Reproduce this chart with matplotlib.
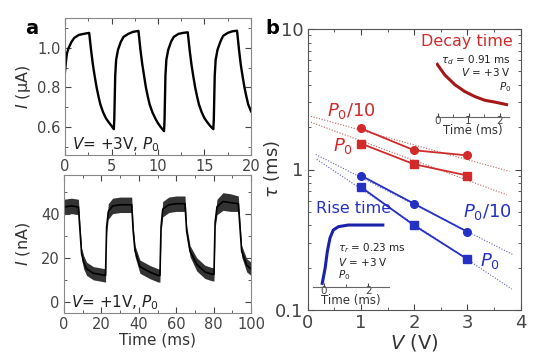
import matplotlib
matplotlib.use("Agg")
import matplotlib.pyplot as plt
from matplotlib.ticker import MultipleLocator, FixedLocator, NullFormatter

# ---- panel a, top: V = +3 V trace (current in uA vs time in ms)
t_top = [0, 0.1, 0.2, 0.4, 0.7, 1.0, 1.5, 2.0, 2.6,
         2.8, 3.0, 3.2, 3.4, 3.6, 3.8, 4.1, 4.4, 4.7, 5.0, 5.25,
         5.3, 5.4, 5.5, 5.7, 6.0, 6.3, 6.8, 7.3, 7.9,
         8.1, 8.3, 8.5, 8.7, 8.9, 9.1, 9.4, 9.7, 10.0, 10.3, 10.65,
         10.7, 10.8, 10.9, 11.1, 11.4, 11.7, 12.2, 12.7, 13.2,
         13.4, 13.6, 13.8, 14.0, 14.2, 14.4, 14.7, 15.0, 15.3, 15.6, 15.95,
         16.0, 16.1, 16.2, 16.4, 16.7, 17.0, 17.5, 18.0, 18.5,
         18.7, 18.9, 19.1, 19.3, 19.5, 19.7, 20.0]
i_top = [0.88, 0.93, 0.97, 1.00, 1.03, 1.05, 1.065, 1.07, 1.075,
         0.99, 0.915, 0.855, 0.80, 0.755, 0.715, 0.675, 0.645, 0.625, 0.607, 0.59,
         0.64, 0.86, 0.94, 0.99, 1.03, 1.055, 1.07, 1.08, 1.085,
         0.995, 0.92, 0.86, 0.80, 0.755, 0.715, 0.675, 0.645, 0.62, 0.60, 0.58,
         0.63, 0.86, 0.94, 0.99, 1.03, 1.055, 1.07, 1.075, 1.078,
         0.99, 0.915, 0.855, 0.80, 0.755, 0.715, 0.675, 0.645, 0.625, 0.607, 0.59,
         0.64, 0.86, 0.94, 0.99, 1.03, 1.06, 1.075, 1.083, 1.086,
         0.995, 0.915, 0.855, 0.80, 0.755, 0.715, 0.68]

# ---- panel a, bottom: V = +1 V trace (nA vs ms), with noise half-width
t_bot = [0, 4, 7.7, 8.5, 9.4, 10.5, 12.1, 15.7, 19, 22.2,
         22.8, 23.7, 26, 30, 36.2,
         37, 38, 40.6, 46, 50.4, 51.3,
         51.9, 52.8, 56, 60, 64.7,
         65.6, 67.4, 71, 75.4, 79, 80.2,
         80.8, 81.8, 85, 89, 93.2,
         95, 97.7, 100]
i_bot = [43, 43.5, 43, 33, 22, 18, 15, 13, 12.5, 12,
         34, 41, 43.5, 44, 44,
         32, 23, 16, 13.5, 12, 12,
         34, 42, 44, 44.5, 44.5,
         32, 23, 17, 13.6, 12.6, 12.5,
         36, 43, 45.5, 45, 44.5,
         23, 16.6, 15]
n_bot = [3.5, 3.5, 3.5, 2.5, 2.5, 3, 3, 3, 3, 3,
         2.5, 3.5, 3.5, 3.5, 3.5,
         2.5, 2.5, 3, 3, 3, 3,
         2.5, 3.5, 3.5, 3.5, 3.5,
         2.5, 2.5, 3, 3, 3, 3,
         2.5, 3.5, 4, 4, 3.5,
         2.5, 3, 3]

# ---- panel b: time constants vs bias
volts = [1, 2, 3]
decay_p10 = [1.96, 1.37, 1.26]
decay_p0 = [1.53, 1.09, 0.906]
rise_p10 = [0.906, 0.57, 0.36]
rise_p0 = [0.75, 0.40, 0.23]

# dotted guide lines (start / end)
fit_x = {"dp10": [0.06, 3.79], "dp0": [0.06, 3.74], "rp10": [0.15, 3.86], "rp0": [0.17, 3.83]}
fit_y = {"dp10": [2.39, 0.97], "dp0": [2.17, 0.66], "rp10": [1.28, 0.247], "rp0": [1.18, 0.141]}

# insets: normalized transients
decay_t = [-0.01, 0.23, 0.56, 0.88, 1.2, 1.52, 1.85, 2.22]
decay_v = [0.85, 0.68, 0.52, 0.41, 0.33, 0.27, 0.24, 0.20]
rise_t = [-0.08, 0.05, 0.15, 0.27, 0.42, 0.65, 1.1, 2.67]
rise_v = [0.055, 0.28, 0.53, 0.73, 0.85, 0.90, 0.925, 0.925]

RED = "#d22a2a"
BLUE = "#2431c4"
W, H = 556, 357


def fx(x):
    return x / W


def fy(y):
    return 1 - y / H


def ticks_in(ax, size):
    ax.tick_params(which="both", direction="in", top=True, right=True,
                   labelsize=size, colors="#444444", pad=3)
    ax.tick_params(which="major", length=4)
    ax.tick_params(which="minor", length=2)


fig = plt.figure(figsize=(5.56, 3.57), dpi=100)

# ---------- panel a top
ax1 = fig.add_axes([fx(65), fy(155), fx(186), 137 / H])
ax1.plot(t_top, i_top, color="black", lw=1.7)
ax1.set_xlim(0, 20)
ax1.set_ylim(0.46, 1.15)
ax1.xaxis.set_major_locator(MultipleLocator(5))
ax1.xaxis.set_minor_locator(MultipleLocator(2.5))
ax1.yaxis.set_major_locator(FixedLocator([0.6, 0.8, 1.0]))
ax1.yaxis.set_minor_locator(MultipleLocator(0.1))
ticks_in(ax1, 10.5)
ax1.set_ylabel(r"$I$ (μA)", fontsize=11.5, color="#333333")
ax1.yaxis.set_label_coords(-0.17, 0.5)
ax1.text(0.04, 0.04, r"$V$= +3V, $P_0$", transform=ax1.transAxes,
         fontsize=11, color="#222222")

# ---------- panel a bottom
ax2 = fig.add_axes([fx(64), fy(313), fx(187), 138 / H])
lo = [c - n for c, n in zip(i_bot, n_bot)]
hi = [c + n for c, n in zip(i_bot, n_bot)]
ax2.fill_between(t_bot, lo, hi, color="black", alpha=0.8, lw=0)
ax2.plot(t_bot, i_bot, color="black", lw=1.2)
ax2.set_xlim(0, 100)
ax2.set_ylim(-5, 57.5)
ax2.xaxis.set_major_locator(MultipleLocator(20))
ax2.xaxis.set_minor_locator(MultipleLocator(10))
ax2.yaxis.set_major_locator(FixedLocator([0, 20, 40]))
ax2.yaxis.set_minor_locator(MultipleLocator(10))
ticks_in(ax2, 10.5)
ax2.set_ylabel(r"$I$ (nA)", fontsize=11.5, color="#333333")
ax2.yaxis.set_label_coords(-0.17, 0.5)
ax2.set_xlabel("Time (ms)", fontsize=11, color="#333333", labelpad=0)
ax2.text(0.04, 0.04, r"$V$= +1V, $P_0$", transform=ax2.transAxes,
         fontsize=11, color="#222222")

for a in (ax1, ax2):
    for s in a.spines.values():
        s.set_color("#888888")

# ---------- panel b
axb = fig.add_axes([fx(307.7), fy(310), fx(213), 281 / H])
axb.set_yscale("log")
axb.set_xlim(0, 4)
axb.set_ylim(0.1, 10)
for key, col in (("dp10", "#c46060"), ("dp0", "#c46060"),
                 ("rp10", "#6060c0"), ("rp0", "#6060c0")):
    axb.plot(fit_x[key], fit_y[key], ls=(0, (1, 1.5)), lw=0.8, color=col)
axb.plot(volts, decay_p10, "-o", color=RED, ms=5.5, lw=1.3)
axb.plot(volts, decay_p0, "-s", color=RED, ms=5.5, lw=1.3)
axb.plot(volts, rise_p10, "-o", color=BLUE, ms=5.5, lw=1.3)
axb.plot(volts, rise_p0, "-s", color=BLUE, ms=5.5, lw=1.3)
axb.xaxis.set_major_locator(MultipleLocator(1))
axb.xaxis.set_minor_locator(MultipleLocator(0.5))
axb.yaxis.set_major_locator(FixedLocator([0.1, 1, 10]))
axb.set_yticklabels(["0.1", "1", "10"])
axb.yaxis.set_minor_formatter(NullFormatter())
ticks_in(axb, 13)
for s in axb.spines.values():
    s.set_color("#555555")
axb.set_xlabel(r"$V$ (V)", fontsize=14, color="#333333", labelpad=0)
axb.set_ylabel(r"$\tau$ (ms)", fontsize=13, color="#333333")
axb.yaxis.set_label_coords(-0.12, 0.5)

axb.text(0.36, 2.6, r"$P_0$/10", color=RED, fontsize=13, va="center")
axb.text(0.47, 1.46, r"$P_0$", color=RED, fontsize=13, va="center")
axb.text(2.92, 0.50, r"$P_0$/10", color=BLUE, fontsize=13, va="center")
axb.text(3.24, 0.225, r"$P_0$", color=BLUE, fontsize=13, va="center")
axb.text(3.86, 8.1, "Decay time", color=RED, fontsize=11.5, ha="right", va="center")
axb.text(0.16, 0.53, "Rise time", color=BLUE, fontsize=11.5, ha="left", va="center")

# decay inset
axd = fig.add_axes([fx(436), fy(117), fx(73), 62 / H])
axd.plot(decay_t, decay_v, color="#a51818", lw=2.2)
axd.set_xlim(-0.05, 2.3)
axd.set_ylim(0, 1)
# rise inset
axr = fig.add_axes([fx(313), fy(287), fx(76), 67 / H])
axr.plot(rise_t, rise_v, color="#1a22a8", lw=2.2)
axr.set_xlim(-0.5, 2.95)
axr.set_ylim(0, 1)
for a, major in ((axd, 1), (axr, 2)):
    a.set_facecolor("none")
    for side in ("top", "left", "right"):
        a.spines[side].set_visible(False)
    a.spines["bottom"].set_color("#666666")
    a.set_yticks([])
    a.xaxis.set_major_locator(MultipleLocator(major))
    a.xaxis.set_minor_locator(MultipleLocator(major / 2))
    a.tick_params(which="both", direction="in", labelsize=7.5, colors="#444444", pad=-1)
    a.tick_params(which="major", length=3)
    a.tick_params(which="minor", length=2)
    a.set_xlabel("Time (ms)", fontsize=8.5, color="#333333", labelpad=-1)

fig.text(fx(511), fy(60), r"$\tau_d$ = 0.91 ms", fontsize=7.5, ha="right", va="center", color="#222222")
fig.text(fx(511), fy(72), r"$V$ = +3 V", fontsize=7.5, ha="right", va="center", color="#222222")
fig.text(fx(511), fy(87), r"$P_0$", fontsize=7.5, ha="right", va="center", color="#222222")
fig.text(fx(338), fy(248), r"$\tau_r$ = 0.23 ms", fontsize=7.5, ha="left", va="center", color="#222222")
fig.text(fx(338), fy(262), r"$V$ = +3 V", fontsize=7.5, ha="left", va="center", color="#222222")
fig.text(fx(338), fy(275), r"$P_0$", fontsize=7.5, ha="left", va="center", color="#222222")

# panel letters
fig.text(fx(32), fy(28), "a", fontsize=14, fontweight="bold", ha="center", va="center")
fig.text(fx(272), fy(29), "b", fontsize=14, fontweight="bold", ha="center", va="center")

fig.savefig("out.png", dpi=100)
